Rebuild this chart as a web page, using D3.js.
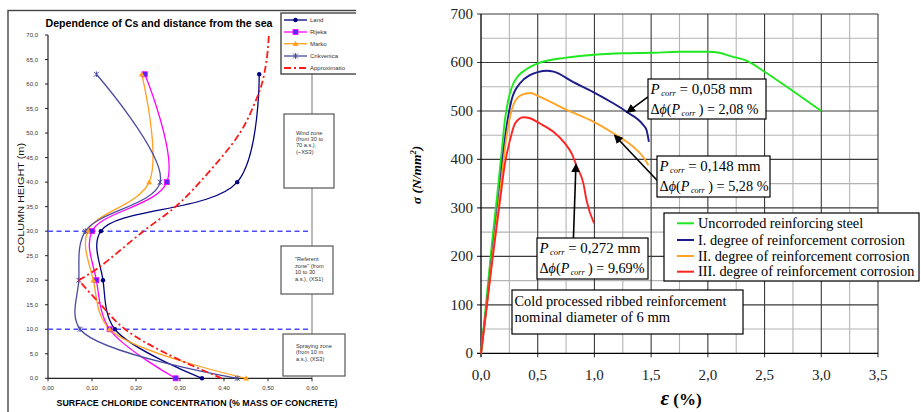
<!DOCTYPE html>
<html><head><meta charset="utf-8">
<script src="https://cdn.jsdelivr.net/npm/d3@7/dist/d3.min.js"></script>
<style>body{margin:0;background:#fff}svg{display:block}</style>
</head><body>
<svg id="c" width="921" height="412"></svg>
<script>
// ================= LEFT CHART DATA =================
const heights = [0, 10, 20, 30, 40, 62];
const landCs = [0.35, 0.152, 0.125, 0.12, 0.43, 0.48];
const rijekaCs = [0.29, 0.14, 0.11, 0.10, 0.27, 0.22];
const markoCs = [0.45, 0.14, 0.103, 0.09, 0.23, 0.213];
const crikvenicaCs = [0.43, 0.073, 0.07, 0.085, 0.255, 0.11];
const approxHeights = [0, 5, 10, 15, 20, 22.5, 30, 35, 40, 50, 57, 60, 65, 70];
const approxCs = [0.395, 0.27, 0.175, 0.12, 0.07, 0.114, 0.217, 0.29, 0.345, 0.436, 0.474, 0.486, 0.497, 0.502];
const leftSeriesNames = ["Land", "Rijeka", "Marko", "Crikvenica", "Approximatio"];
const leftXTicks = [0, 0.1, 0.2, 0.3, 0.4, 0.5, 0.6];
const leftYTicks = [0, 5, 10, 15, 20, 25, 30, 35, 40, 45, 50, 55, 60, 65, 70];
const zoneBoundaries = [10, 30];
const windZoneText = ["Wind zone", "(from 30 to", "70 a.s.),", "(~XS3)"];
const referentZoneText = ["\"Referent", "zone\" (from", "10 to 30", "a.s.), (XS1)"];
const sprayZoneText = ["Spraying zone", "(from 10 m", "a.s.), (XS3)"];

// ================= RIGHT CHART DATA =================
const strainUncorroded = [0, 0.05, 0.1, 0.14, 0.18, 0.21, 0.24, 0.27, 0.32, 0.4, 0.5, 0.75, 1.0, 1.25, 1.5, 1.75, 2.0, 2.1, 2.2, 2.35, 2.5, 2.75, 3.0];
const stressUncorroded = [0, 115, 235, 320, 410, 480, 522, 548, 570, 586, 598, 610, 616, 619, 620, 622, 622, 620, 613, 603, 581, 541, 500];
const strainDeg1 = [0, 0.05, 0.1, 0.155, 0.2, 0.23, 0.27, 0.344, 0.432, 0.5, 0.58, 0.64, 0.81, 0.99, 1.15, 1.285, 1.43, 1.46, 1.48];
const stressDeg1 = [0, 100, 205, 316, 420, 475, 523, 557, 574, 580, 583, 581, 560, 539, 518, 498, 471, 460, 436];
const strainDeg2 = [0, 0.05, 0.1, 0.16, 0.2, 0.227, 0.26, 0.29, 0.358, 0.432, 0.52, 0.756, 0.99, 1.167, 1.343, 1.43, 1.476];
const stressDeg2 = [0, 98, 200, 316, 400, 450, 492, 515, 533, 537, 529, 502, 478, 454, 426, 405, 388];
const strainDeg3 = [0, 0.05, 0.1, 0.168, 0.21, 0.256, 0.3, 0.373, 0.432, 0.52, 0.638, 0.74, 0.8, 0.845, 0.903, 0.93, 0.997];
const stressDeg3 = [0, 95, 192, 316, 390, 440, 474, 487, 485, 474, 457, 433, 412, 385, 350, 316, 268];
const rightSeriesNames = ["Uncorroded reinforcing steel", "I. degree of reinforcement corrosion", "II. degree of reinforcement corrosion", "III. degree of reinforcement corrosion"];
const rightSeriesColors = ["#1ee81e", "#1c1c8a", "#ffa424", "#ff2424"];
const rightXTicks = [0, 0.5, 1.0, 1.5, 2.0, 2.5, 3.0, 3.5];
const rightYTicks = [0, 100, 200, 300, 400, 500, 600, 700];
const pcorrValues = ["0,058", "0,148", "0,272"];
const deltaPhiValues = ["2,08 %", "5,28 %", "9,69%"];
// arrow tips / tails in data coordinates [strain, stress]
const arrowTips = [[1.287, 497], [1.177, 450], [0.837, 390]];
const arrowTails = [[1.472, 529], [1.56, 355], [0.815, 238]];

const svg = d3.select("#c");
const SANS = "'Liberation Sans', Arial, sans-serif";
const SERIF = "'Liberation Serif', 'Times New Roman', serif";

// ================= LEFT CHART =================
const defs = svg.append("defs");
defs.append("clipPath").attr("id", "clipL").append("rect").attr("x", 0).attr("y", 0).attr("width", 356).attr("height", 412);
const gL = svg.append("g").attr("clip-path", "url(#clipL)");

const xL = d3.scaleLinear().domain([0, 0.6]).range([48, 312]);
const yL = d3.scaleLinear().domain([0, 70]).range([378.3, 35]);

// outer frame
gL.append("rect").attr("x", 8).attr("y", 10.5).attr("width", 420).attr("height", 430)
  .attr("fill", "none").attr("stroke", "#444").attr("stroke-width", 1.4);

// title
gL.append("text").attr("x", 159).attr("y", 27).attr("text-anchor", "middle")
  .attr("font-family", SANS).attr("font-weight", "bold").attr("font-size", 11.5)
  .attr("textLength", 227).attr("lengthAdjust", "spacingAndGlyphs")
  .text("Dependence of Cs and distance from the sea");

// grey connector line on right
gL.append("line").attr("x1", xL(0.6)).attr("x2", xL(0.6)).attr("y1", 74).attr("y2", yL(0))
  .attr("stroke", "#8a8a8a").attr("stroke-width", 1.2);

// axes
const axL = gL.append("g").attr("font-family", SANS);
axL.append("line").attr("x1", xL(0)).attr("x2", xL(0)).attr("y1", yL(70)).attr("y2", yL(0)).attr("stroke", "#222").attr("stroke-width", 1.2);
axL.append("line").attr("x1", xL(0)).attr("x2", xL(0.6)).attr("y1", yL(0)).attr("y2", yL(0)).attr("stroke", "#222").attr("stroke-width", 1.2);
leftYTicks.forEach(v => {
  axL.append("line").attr("x1", xL(0) - 3).attr("x2", xL(0)).attr("y1", yL(v)).attr("y2", yL(v)).attr("stroke", "#222");
  axL.append("text").attr("x", 38).attr("y", yL(v) + 2).attr("text-anchor", "end").attr("font-size", 6).attr("fill", "#333")
    .text(d3.format(".1f")(v).replace(".", ","));
});
leftXTicks.forEach(v => {
  axL.append("line").attr("x1", xL(v)).attr("x2", xL(v)).attr("y1", yL(0)).attr("y2", yL(0) + 3).attr("stroke", "#222");
  axL.append("text").attr("x", xL(v)).attr("y", 390).attr("text-anchor", "middle").attr("font-size", 6).attr("fill", "#333")
    .text(d3.format(".2f")(v).replace(".", ","));
});
axL.append("text").attr("x", 197).attr("y", 405.5).attr("text-anchor", "middle").attr("font-weight", "bold").attr("font-size", 8.6)
  .attr("textLength", 281).attr("lengthAdjust", "spacingAndGlyphs")
  .text("SURFACE CHLORIDE CONCENTRATION (% MASS OF CONCRETE)");
axL.append("text").attr("transform", "translate(23.5,198) rotate(-90)").attr("text-anchor", "middle").attr("font-size", 9.5)
  .attr("textLength", 110).attr("lengthAdjust", "spacingAndGlyphs").attr("fill", "#111")
  .text("COLUMN HEIGHT (m)");

// zone dashed lines
zoneBoundaries.forEach(h => {
  gL.append("line").attr("x1", xL(0)).attr("x2", 309).attr("y1", yL(h)).attr("y2", yL(h))
    .attr("stroke", "#4a4aff").attr("stroke-width", 1.5).attr("stroke-dasharray", "5,3.5");
});

// zone boxes
function zoneBox(x, y, w, h, lines, tx, ty, lh) {
  gL.append("rect").attr("x", x).attr("y", y).attr("width", w).attr("height", h)
    .attr("fill", "#fff").attr("stroke", "#555").attr("stroke-width", 1.2);
  const t = gL.append("text").attr("font-family", SANS).attr("font-size", 5.6).attr("fill", "#333");
  lines.forEach((s, i) => t.append("tspan").attr("x", tx).attr("y", ty + i * lh).text(s));
}
zoneBox(284, 114, 50, 74, windZoneText, 296, 135, 6.2);
zoneBox(281, 246, 52, 48, referentZoneText, 295, 261, 6.6);
zoneBox(283, 334, 62, 42, sprayZoneText, 296, 348, 6.3);

// series lines
const lineL = d3.line().curve(d3.curveCatmullRom.alpha(0.5)).x(d => xL(d[0])).y(d => yL(d[1]));
const leftSeries = [
  {vals: landCs, color: "#000080", marker: "circle"},
  {vals: rijekaCs, color: "#ff00ff", marker: "square"},
  {vals: markoCs, color: "#ffa020", marker: "triangle"},
  {vals: crikvenicaCs, color: "#4a4aa0", marker: "star"}
];
function drawMarker(g, type, x, y, color) {
  if (type === "circle") g.append("circle").attr("cx", x).attr("cy", y).attr("r", 2.2).attr("fill", color);
  else if (type === "square") g.append("rect").attr("x", x - 2.5).attr("y", y - 2.5).attr("width", 5).attr("height", 5).attr("fill", "#5a22ff").attr("stroke", "#ff00ff").attr("stroke-width", 0.8);
  else if (type === "triangle") g.append("path").attr("d", `M${x},${y - 3}L${x + 3},${y + 2.2}L${x - 3},${y + 2.2}Z`).attr("fill", color);
  else if (type === "star") g.append("path").attr("d", `M${x - 2.4},${y - 2.4}L${x + 2.4},${y + 2.4}M${x + 2.4},${y - 2.4}L${x - 2.4},${y + 2.4}M${x},${y - 2.8}L${x},${y + 2.8}`).attr("stroke", color).attr("stroke-width", 1);
}
leftSeries.forEach(s => {
  const pts = heights.map((h, i) => [s.vals[i], h]);
  gL.append("path").attr("d", lineL(pts)).attr("fill", "none").attr("stroke", s.color).attr("stroke-width", 1.3);
});
leftSeries.forEach(s => {
  heights.forEach((h, i) => drawMarker(gL, s.marker, xL(s.vals[i]), yL(h), s.color));
});
// approximation: split at its minimum
const apPts = approxHeights.map((h, i) => [approxCs[i], h]);
const minIdx = d3.minIndex(approxCs);
[apPts.slice(0, minIdx + 1), apPts.slice(minIdx)].forEach(seg => {
  gL.append("path").attr("d", lineL(seg)).attr("fill", "none").attr("stroke", "#ff1a1a").attr("stroke-width", 1.8)
    .attr("stroke-dasharray", "7,3,2,3");
});

// legend (left)
gL.append("rect").attr("x", 281).attr("y", 13).attr("width", 100).attr("height", 61)
  .attr("fill", "#fff").attr("stroke", "#444").attr("stroke-width", 1.4);
const legRowsY = [20, 32, 43.7, 56, 68];
leftSeriesNames.forEach((nm, i) => {
  const y = legRowsY[i];
  if (i < 4) {
    gL.append("line").attr("x1", 284).attr("x2", 307).attr("y1", y).attr("y2", y).attr("stroke", leftSeries[i].color).attr("stroke-width", 1.3);
    drawMarker(gL, leftSeries[i].marker, 295.5, y, leftSeries[i].color);
  } else {
    gL.append("line").attr("x1", 284).attr("x2", 307).attr("y1", y).attr("y2", y).attr("stroke", "#ff1a1a").attr("stroke-width", 1.8).attr("stroke-dasharray", "7,3,2,3");
  }
  gL.append("text").attr("x", 310).attr("y", y + 2).attr("font-family", SANS).attr("font-size", 6).attr("fill", "#333").text(nm);
});

// ================= RIGHT CHART =================
const xR = d3.scaleLinear().domain([0, 3.5]).range([481, 878]);
const yR = d3.scaleLinear().domain([0, 700]).range([353.3, 14]);
const gR = svg.append("g");

// minor grid
d3.range(0.25, 3.5, 0.5).forEach(v => gR.append("line").attr("x1", xR(v)).attr("x2", xR(v)).attr("y1", yR(0)).attr("y2", yR(700)).attr("stroke", "#b4b4b4").attr("stroke-width", 1.1));
d3.range(50, 700, 100).forEach(v => gR.append("line").attr("x1", xR(0)).attr("x2", xR(3.5)).attr("y1", yR(v)).attr("y2", yR(v)).attr("stroke", "#b4b4b4").attr("stroke-width", 1.1));
// major grid
rightXTicks.slice(1).forEach(v => gR.append("line").attr("x1", xR(v)).attr("x2", xR(v)).attr("y1", yR(0) + 4).attr("y2", yR(700)).attr("stroke", "#3a3a3a").attr("stroke-width", 1.1));
rightYTicks.slice(1).forEach(v => gR.append("line").attr("x1", xR(0) - 4).attr("x2", xR(3.5)).attr("y1", yR(v)).attr("y2", yR(v)).attr("stroke", "#3a3a3a").attr("stroke-width", 1.1));
// axes lines
gR.append("line").attr("x1", xR(0)).attr("x2", xR(0)).attr("y1", yR(0) + 4).attr("y2", yR(700)).attr("stroke", "#000").attr("stroke-width", 1.3);
gR.append("line").attr("x1", xR(0) - 4).attr("x2", xR(3.5)).attr("y1", yR(0)).attr("y2", yR(0)).attr("stroke", "#000").attr("stroke-width", 1.3);
// tick labels
rightYTicks.forEach(v => gR.append("text").attr("x", 473).attr("y", yR(v) + 5).attr("text-anchor", "end")
  .attr("font-family", SERIF).attr("font-size", 15).attr("fill", "#222").text(v));
rightXTicks.forEach(v => gR.append("text").attr("x", xR(v)).attr("y", 380).attr("text-anchor", "middle")
  .attr("font-family", SERIF).attr("font-size", 15).attr("fill", "#222").text(d3.format(".1f")(v).replace(".", ",")));

// axis titles
const xt = gR.append("text").attr("x", 681).attr("y", 405).attr("text-anchor", "middle").attr("font-family", SERIF).attr("font-weight", "bold");
xt.append("tspan").attr("font-style", "italic").attr("font-size", 21).text("ε");
xt.append("tspan").attr("font-size", 17).text(" (%)");
const yt = gR.append("text").attr("transform", "translate(421,175) rotate(-90)").attr("text-anchor", "middle")
  .attr("font-family", SERIF).attr("font-weight", "bold").attr("font-style", "italic").attr("font-size", 13.5);
yt.append("tspan").text("σ (N/mm");
yt.append("tspan").attr("font-size", 8.5).attr("dy", -5).text("2");
yt.append("tspan").attr("dy", 5).text(")");

// curves
const lineR = d3.line().curve(d3.curveMonotoneX).x(d => xR(d[0])).y(d => yR(d[1]));
const rightSeries = [[strainUncorroded, stressUncorroded], [strainDeg1, stressDeg1], [strainDeg2, stressDeg2], [strainDeg3, stressDeg3]];
rightSeries.forEach((s, k) => {
  const pts = s[0].map((x, i) => [x, s[1][i]]);
  gR.append("path").attr("d", lineR(pts)).attr("fill", "none").attr("stroke", rightSeriesColors[k]).attr("stroke-width", 1.9);
});

// arrows
defs.append("marker").attr("id", "ah").attr("viewBox", "0 0 10 10").attr("refX", 9).attr("refY", 5)
  .attr("markerWidth", 9).attr("markerHeight", 9).attr("markerUnits", "userSpaceOnUse").attr("orient", "auto")
  .append("path").attr("d", "M0,0L10,5L0,10Z").attr("fill", "#000");
arrowTips.forEach((tip, i) => {
  gR.append("line").attr("x1", xR(arrowTails[i][0])).attr("y1", yR(arrowTails[i][1]))
    .attr("x2", xR(tip[0])).attr("y2", yR(tip[1])).attr("stroke", "#000").attr("stroke-width", 1.6).attr("marker-end", "url(#ah)");
});

// annotation boxes
function pcorrBox(x0, y0, w, h, pc, dp, len1, len2) {
  const g = gR.append("g").attr("font-family", SERIF).attr("font-size", 15).attr("fill", "#000");
  g.append("rect").attr("x", x0).attr("y", y0).attr("width", w).attr("height", h).attr("fill", "#fff").attr("stroke", "#000").attr("stroke-width", 1.2);
  const t1 = g.append("text").attr("x", x0 + 2.5).attr("y", y0 + 14.5).attr("textLength", len1).attr("lengthAdjust", "spacingAndGlyphs");
  t1.append("tspan").attr("font-style", "italic").text("P");
  t1.append("tspan").attr("font-style", "italic").attr("font-size", 8.5).attr("dy", 2).attr("dx", 1.5).text("corr");
  t1.append("tspan").attr("dy", -2).text(" = " + pc + " mm");
  const t2 = g.append("text").attr("x", x0 + 2.5).attr("y", y0 + 34.5).attr("textLength", len2).attr("lengthAdjust", "spacingAndGlyphs");
  t2.append("tspan").text("Δ");
  t2.append("tspan").attr("font-style", "italic").text("ϕ");
  t2.append("tspan").text("(");
  t2.append("tspan").attr("font-style", "italic").text("P");
  t2.append("tspan").attr("font-style", "italic").attr("font-size", 8.5).attr("dy", 2).attr("dx", 1.5).text("corr");
  t2.append("tspan").attr("dy", -2).text(" ) = " + dp);
}
pcorrBox(648, 79, 118, 40, pcorrValues[0], deltaPhiValues[0], 102, 108);
pcorrBox(657, 156, 113, 41, pcorrValues[1], deltaPhiValues[1], 101, 109);
pcorrBox(537, 238, 111, 41, pcorrValues[2], deltaPhiValues[2], 101, 105);

// info box
const ib = gR.append("g").attr("font-family", SERIF).attr("font-size", 14.6);
ib.append("rect").attr("x", 512).attr("y", 290).attr("width", 231).attr("height", 44).attr("fill", "#fff").attr("stroke", "#000").attr("stroke-width", 1.2);
ib.append("text").attr("x", 514.5).attr("y", 306).attr("textLength", 212).attr("lengthAdjust", "spacingAndGlyphs").text("Cold processed ribbed reinforcement");
ib.append("text").attr("x", 514.5).attr("y", 321.5).text("nominal diameter of 6 mm");

// legend right
const lg = gR.append("g").attr("font-family", SERIF).attr("font-size", 14.3);
lg.append("rect").attr("x", 664).attr("y", 213).attr("width", 255).attr("height", 68).attr("fill", "#fff").attr("stroke", "#000").attr("stroke-width", 1.2);
const lgRows = [223.3, 240, 256, 271.7];
rightSeriesNames.forEach((nm, i) => {
  lg.append("line").attr("x1", 677).attr("x2", 694).attr("y1", lgRows[i]).attr("y2", lgRows[i]).attr("stroke", rightSeriesColors[i]).attr("stroke-width", 2);
  lg.append("text").attr("x", 698).attr("y", lgRows[i] + 4.5).text(nm);
});
</script>
</body></html>
